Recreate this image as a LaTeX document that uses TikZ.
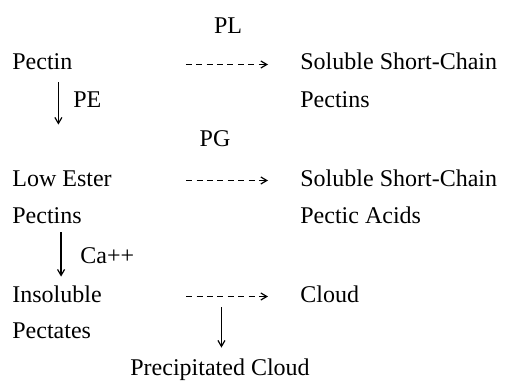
\documentclass[tikz,border=0pt]{standalone}
\usepackage{fontspec}
\setmainfont{Liberation Serif}
\usetikzlibrary{arrows.meta}

\begin{document}
\begin{tikzpicture}[
    x=0.5pt, y=-0.5pt,
    font=\fontsize{12}{14}\selectfont,
    txt/.style={inner sep=0pt, text height=8.5pt, text depth=3pt, anchor=west},
    lbl/.style={inner sep=0pt, text height=8.5pt, text depth=3pt},
    arr/.style={-{Straight Barb[length=3pt, width=3.5pt]}, line width=0.6pt},
    darr/.style={arr, dash pattern=on 3pt off 2.2pt, shorten >=16pt},
]
\useasboundingbox (0,0) rectangle (508,385);
% enzymes
\node[lbl] (pl) at (228,28.5) {PL};
\node[lbl] (pg) at (215,141.5) {PG};
% left column
\node[txt] (pectin) at (12,64.5) {Pectin};
\node[txt] (pe) at (73,102.5) {PE};
\node[txt] (lowester) at (12,180.5) {Low Ester};
\node[txt] (pectinsl) at (12,217.5) {Pectins};
\node[txt] (ca) at (80,257.5) {Ca++};
\node[txt] (insoluble) at (12,296.5) {Insoluble};
\node[txt] (pectates) at (12,332.5) {Pectates};
% right column
\node[txt] (sscpectins) at (300,64.5) {Soluble Short-Chain};
\node[txt] (pectinsr) at (300,102.5) {Pectins};
\node[txt] (sscacids) at (300,180.5) {Soluble Short-Chain};
\node[txt] (pecticacids) at (300,217.5) {Pectic Acids};
\node[txt] (cloud) at (300,296.5) {Cloud};
\node[lbl] (precip) at (220,369.5) {Precipitated Cloud};

\draw[darr, shorten <=56.5pt] (pectin) -- (sscpectins);
\draw[darr, shorten <=37pt] (lowester) -- (sscacids);
\draw[darr, shorten <=42pt] (insoluble) -- coordinate[pos=0.603] (split) (cloud);

\draw[arr, shorten <=3pt, shorten >=22pt] ([xshift=8pt]pectin.south) -- ([xshift=8pt]pectin.south |- lowester.north);
\draw[arr, shorten <=1.5pt, shorten >=4pt] ([xshift=7pt]pectinsl.south) -- ([xshift=7pt]pectinsl.south |- insoluble.north);
\draw[arr, shorten <=5.25pt, shorten >=5pt] (split) -- (split |- precip.north);
\end{tikzpicture}
\end{document}
